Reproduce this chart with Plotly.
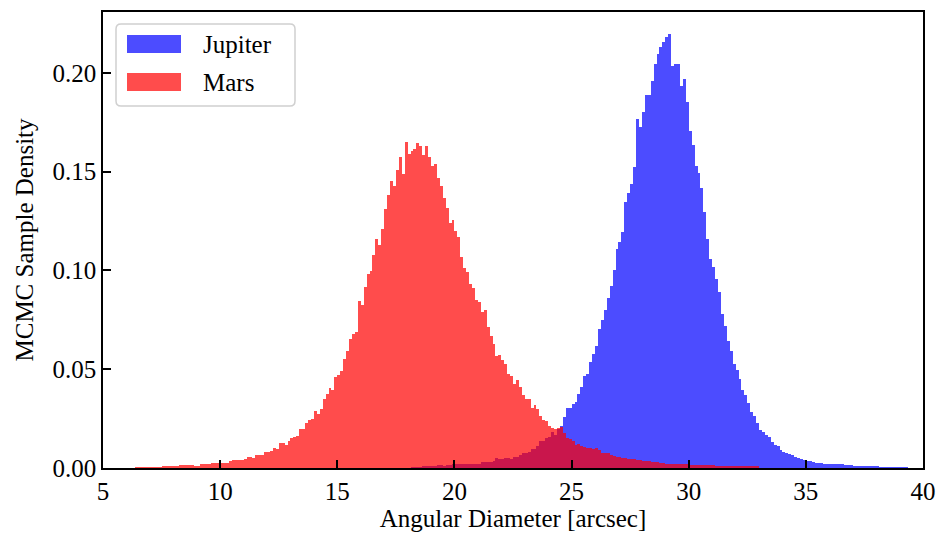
import numpy as np
import plotly.graph_objects as go

# ---------------- data ----------------
bin_width = 0.125
mars_start = 6.375
jupiter_start = 18.0

mars_density = [
    0.0004, 0.0004, 0.0004, 0.0004, 0.0004, 0.0004, 0.0004, 0.0003, 0.0003, 0.0010,
    0.0010, 0.0009, 0.0012, 0.0012, 0.0012, 0.0014, 0.0014, 0.0014, 0.0015, 0.0015,
    0.0012, 0.0012, 0.0022, 0.0022, 0.0022, 0.0022, 0.0025, 0.0025, 0.0025, 0.0025,
    0.0025, 0.0025, 0.0035, 0.0040, 0.0040, 0.0040, 0.0042, 0.0045, 0.0054, 0.0057,
    0.0050, 0.0066, 0.0066, 0.0068, 0.0081, 0.0082, 0.0086, 0.0101, 0.0096, 0.0126,
    0.0126, 0.0116, 0.0136, 0.0152, 0.0157, 0.0162, 0.0197, 0.0197, 0.0227, 0.0242,
    0.0246, 0.0288, 0.0273, 0.0298, 0.0348, 0.0374, 0.0404, 0.0394, 0.0460, 0.0470,
    0.0490, 0.0550, 0.0590, 0.0655, 0.0680, 0.0687, 0.0843, 0.0823, 0.0914, 0.0980,
    0.0995, 0.1080, 0.1157, 0.1130, 0.1212, 0.1313, 0.1384, 0.1455, 0.1429, 0.1510,
    0.1576, 0.1490, 0.1652, 0.1590, 0.1606, 0.1616, 0.1646, 0.1630, 0.1586, 0.1630,
    0.1576, 0.1530, 0.1540, 0.1470, 0.1429, 0.1369, 0.1318, 0.1242, 0.1253, 0.1200,
    0.1167, 0.1070, 0.1010, 0.0990, 0.0930, 0.0910, 0.0848, 0.0838, 0.0788, 0.0798,
    0.0712, 0.0667, 0.0626, 0.0566, 0.0571, 0.0545, 0.0525, 0.0475, 0.0465, 0.0424,
    0.0444, 0.0409, 0.0369, 0.0348, 0.0348, 0.0303, 0.0318, 0.0298, 0.0264, 0.0244,
    0.0239, 0.0214, 0.0204, 0.0199, 0.0200, 0.0209, 0.0175, 0.0152, 0.0146, 0.0138,
    0.0118, 0.0121, 0.0113, 0.0104, 0.0101, 0.0101, 0.0094, 0.0099, 0.0091, 0.0076,
    0.0076, 0.0076, 0.0067, 0.0062, 0.0057, 0.0054, 0.0051, 0.0051, 0.0047, 0.0048,
    0.0048, 0.0042, 0.0042, 0.0037, 0.0034, 0.0034, 0.0030, 0.0030, 0.0030, 0.0027,
    0.0027, 0.0020, 0.0020, 0.0020, 0.0020, 0.0020, 0.0019, 0.0019, 0.0019, 0.0015,
    0.0015, 0.0015, 0.0013, 0.0013, 0.0013, 0.0017, 0.0013, 0.0013, 0.0012, 0.0012,
    0.0012, 0.0012, 0.0012, 0.0010, 0.0010, 0.0010, 0.0010, 0.0010, 0.0009, 0.0010,
    0.0009, 0.0010, 0.0008,
]

jupiter_density = [
    0.0002, 0.0003, 0.0007, 0.0007, 0.0003, 0.0008, 0.0008, 0.0008, 0.0008, 0.0008,
    0.0013, 0.0013, 0.0010, 0.0013, 0.0013, 0.0020, 0.0020, 0.0020, 0.0020, 0.0020,
    0.0020, 0.0020, 0.0020, 0.0020, 0.0020, 0.0032, 0.0029, 0.0029, 0.0029, 0.0035,
    0.0050, 0.0044, 0.0044, 0.0052, 0.0052, 0.0044, 0.0057, 0.0057, 0.0066, 0.0074,
    0.0074, 0.0081, 0.0096, 0.0098, 0.0113, 0.0136, 0.0138, 0.0150, 0.0158, 0.0180,
    0.0168, 0.0199, 0.0214, 0.0259, 0.0303, 0.0303, 0.0323, 0.0333, 0.0374, 0.0409,
    0.0465, 0.0475, 0.0535, 0.0576, 0.0616, 0.0702, 0.0747, 0.0798, 0.0859, 0.0919,
    0.1000, 0.1106, 0.1146, 0.1192, 0.1348, 0.1394, 0.1439, 0.1525, 0.1768, 0.1727,
    0.1803, 0.1889, 0.1889, 0.1960, 0.2045, 0.2096, 0.2131, 0.2157, 0.2182, 0.2197,
    0.2035, 0.2045, 0.2045, 0.1934, 0.1970, 0.1854, 0.1707, 0.1636, 0.1530, 0.1495,
    0.1419, 0.1298, 0.1157, 0.1056, 0.1015, 0.0955, 0.0889, 0.0778, 0.0717, 0.0641,
    0.0591, 0.0525, 0.0495, 0.0450, 0.0394, 0.0369, 0.0328, 0.0283, 0.0263, 0.0227,
    0.0192, 0.0182, 0.0167, 0.0157, 0.0131, 0.0116, 0.0111, 0.0091, 0.0081, 0.0076,
    0.0071, 0.0066, 0.0056, 0.0051, 0.0045, 0.0040, 0.0035, 0.0035, 0.0030, 0.0027,
    0.0027, 0.0025, 0.0022, 0.0022, 0.0022, 0.0019, 0.0019, 0.0019, 0.0019, 0.0015,
    0.0015, 0.0015, 0.0012, 0.0012, 0.0012, 0.0012, 0.0008, 0.0008, 0.0008, 0.0008,
    0.0012, 0.0005, 0.0005, 0.0005, 0.0005, 0.0003, 0.0003, 0.0003, 0.0003, 0.0003,
    0.0003,
]

series_names = ["Jupiter", "Mars"]
x_ticks = [5, 10, 15, 20, 25, 30, 35, 40]
y_ticks = [0.00, 0.05, 0.10, 0.15, 0.20]
x_title = "Angular Diameter [arcsec]"
y_title = "MCMC Sample Density"

# ---------------- figure ----------------
FONT = "Liberation Serif"
FS = 25
JUP_COLOR = "rgba(0,0,255,0.7)"
MARS_COLOR = "rgba(255,0,0,0.7)"

jup_x = jupiter_start + bin_width * (np.arange(len(jupiter_density)) + 0.5)
mars_x = mars_start + bin_width * (np.arange(len(mars_density)) + 0.5)

fig = go.Figure()
fig.add_trace(go.Bar(x=jup_x, y=jupiter_density, width=bin_width, name=series_names[0],
                     marker=dict(color=JUP_COLOR, line=dict(width=0)), showlegend=False))
fig.add_trace(go.Bar(x=mars_x, y=mars_density, width=bin_width, name=series_names[1],
                     marker=dict(color=MARS_COLOR, line=dict(width=0)), showlegend=False))

axis_common = dict(
    showline=True, linecolor="black", linewidth=1.6, mirror=True,
    ticks="inside", ticklen=8, tickwidth=1.6, tickcolor="black",
    showgrid=False, zeroline=False, automargin=False,
    tickfont=dict(family=FONT, size=FS, color="black"),
)

fig.update_layout(
    width=940, height=541,
    margin=dict(l=103, r=17, t=12, b=73, autoexpand=False),
    paper_bgcolor="white", plot_bgcolor="white",
    barmode="overlay", bargap=0,
    font=dict(family=FONT, size=FS, color="black"),
    xaxis=dict(range=[5, 40], tickvals=x_ticks, ticktext=[str(v) for v in x_ticks],
               title=dict(text=x_title, font=dict(family=FONT, size=FS), standoff=6),
               **axis_common),
    yaxis=dict(range=[0, 0.2308], tickvals=y_ticks, ticktext=[f"{v:.2f}" for v in y_ticks],
               title=dict(text=y_title, font=dict(family=FONT, size=FS), standoff=12),
               **axis_common),
)

# ---------------- custom legend (matplotlib style) ----------------
def px2paper_x(px):
    return (px - 103) / 820.0

def px2paper_y(py):
    return (468 - py) / 456.0

bx0, bx1, by0, by1 = px2paper_x(116), px2paper_x(295), px2paper_y(106), px2paper_y(24)
rx, ry = 5 / 820.0, 5 / 456.0
path = (f"M {bx0+rx},{by0} L {bx1-rx},{by0} Q {bx1},{by0} {bx1},{by0+ry} "
        f"L {bx1},{by1-ry} Q {bx1},{by1} {bx1-rx},{by1} L {bx0+rx},{by1} "
        f"Q {bx0},{by1} {bx0},{by1-ry} L {bx0},{by0+ry} Q {bx0},{by0} {bx0+rx},{by0} Z")
fig.add_shape(type="path", path=path, xref="paper", yref="paper",
              line=dict(color="#d0d0d0", width=1.5), fillcolor="rgba(255,255,255,0.8)")

legend_items = [(series_names[0], JUP_COLOR, 35, 53), (series_names[1], MARS_COLOR, 73, 91)]
for name, col, top, bot in legend_items:
    fig.add_shape(type="rect", xref="paper", yref="paper",
                  x0=px2paper_x(127), x1=px2paper_x(181),
                  y0=px2paper_y(bot), y1=px2paper_y(top),
                  line=dict(width=0), fillcolor=col)
    fig.add_annotation(x=px2paper_x(201), y=px2paper_y((top + bot) / 2), xref="paper", yref="paper",
                       text=name, showarrow=False, xanchor="left", yanchor="middle",
                       font=dict(family=FONT, size=FS, color="black"))

fig.write_html("out.html")
